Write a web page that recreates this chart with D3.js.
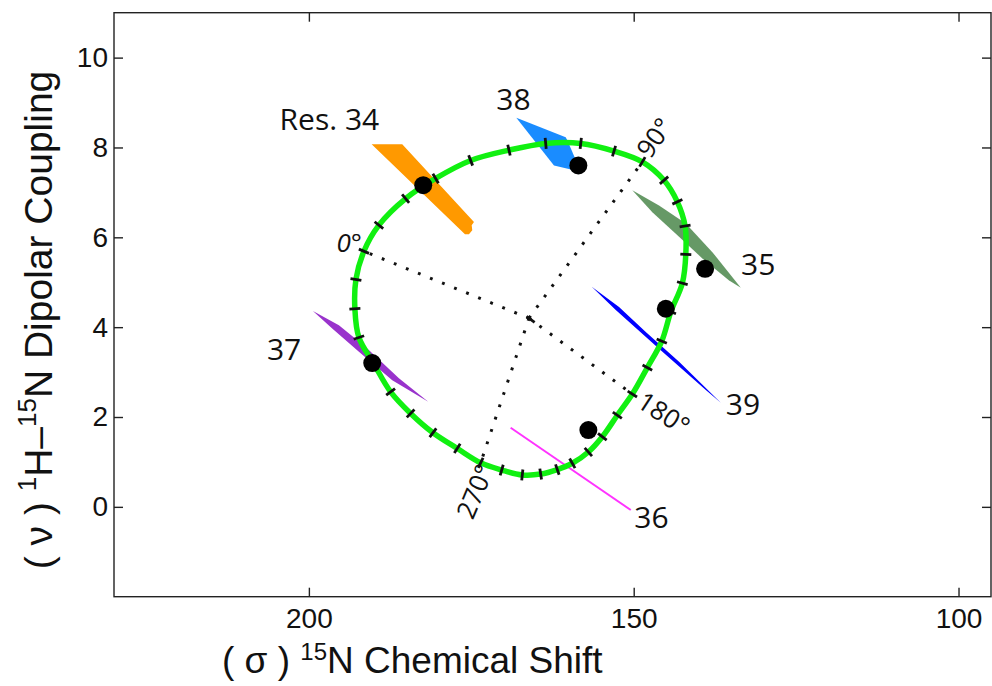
<!DOCTYPE html>
<html>
<head>
<meta charset="utf-8">
<script src="https://cdn.jsdelivr.net/npm/d3@7"></script>
<style>
  body { margin: 0; background: #fff; }
  text { font-family: "Liberation Sans", Arial, sans-serif; }
  .lbl { font-family: "Open Sans", "Noto Sans", sans-serif; }
</style>
</head>
<body>
<script>
// Data (chemical shift in ppm, dipolar coupling in kHz)
var xTicks = [200, 150, 100];
var yTicks = [0, 2, 4, 6, 8, 10];

// wheel points, one every 10 degrees starting at 0 deg
var wheelCS = [191.53, 189.22, 185.11, 180.49, 175.10, 169.20, 163.55, 158.15, 153.03,
  148.67, 145.33, 143.28, 142.09, 141.98, 142.51, 144.29, 145.68, 147.90,
  150.21, 152.52, 154.83, 156.98, 159.45, 161.76, 164.32, 167.15, 170.32,
  173.56, 177.16, 180.90, 184.34, 187.42, 189.99, 192.30, 192.92, 192.76];
var wheelDC = [5.69, 6.27, 6.86, 7.31, 7.71, 7.94, 8.09, 8.09, 7.92,
  7.68, 7.27, 6.79, 6.25, 5.62, 4.98, 4.34, 3.69, 3.10,
  2.51, 2.04, 1.56, 1.22, 0.97, 0.83, 0.73, 0.71, 0.82,
  0.98, 1.30, 1.65, 2.08, 2.56, 3.18, 3.77, 4.41, 5.06];
var wheelCenter = [166.12, 4.20];
var degreeLabels = ["0°", "90°", "180°", "270°"];

var resNames = ["Res. 34", "35", "36", "37", "38", "39"];
var resCS = [182.40, 139.01, 156.98, 190.25, 158.52, 145.06];
var resDC = [7.16, 5.30, 1.71, 3.20, 7.60, 4.41];
var resColors = ["#ff9900", "#669966", "#ff33ff", "#9933cc", "#1a8cff", "#0000ff"];
// uncertainty regions, outline points [cs, dc]
var res34Shape = [[190.34, 8.07], [185.63, 8.07], [174.59, 6.34], [174.94, 6.27], [174.85, 6.16], [175.36, 6.07], [175.97, 6.07]];
var res35Shape = [[150.21, 7.05], [146.10, 6.71], [141.98, 6.31], [137.89, 5.67], [133.51, 4.88], [135.31, 5.04], [139.43, 5.53], [143.02, 6.01], [147.13, 6.56]];
var res36Shape = [[168.94, 1.76], [150.45, -0.07]];
var res37Shape = [[199.38, 4.36], [195.38, 4.04], [191.27, 3.56], [186.14, 2.86], [181.63, 2.34], [187.17, 2.82], [192.30, 3.45], [196.41, 3.97]];
var res38Shape = [[168.07, 8.66], [160.47, 8.23], [160.22, 8.16], [159.03, 7.76], [159.65, 7.51], [162.27, 7.60]];
var res39Shape = [[156.46, 4.90], [152.26, 4.45], [148.14, 3.89], [143.02, 3.23], [136.59, 2.32], [138.90, 2.60], [146.10, 3.52], [152.76, 4.38]];
var resShapes = [res34Shape, res35Shape, res36Shape, res37Shape, res38Shape, res39Shape];

// Chart params
var svgWidth = 992;
var svgHeight = 686;
var margin = { top: 12.7, right: 1, bottom: 89.3, left: 114 };
var width = svgWidth - margin.left - margin.right;
var height = svgHeight - margin.top - margin.bottom;

var svg = d3.select("body").append("svg")
  .attr("width", svgWidth)
  .attr("height", svgHeight);

var chartGroup = svg.append("g")
  .attr("transform", `translate(${margin.left}, ${margin.top})`);

var xScale = d3.scaleLinear().domain([230, 95]).range([0, width]);
var yScale = d3.scaleLinear().domain([-2, 11]).range([height, 0]);

// axes (ticks inside, on all four sides)
var tickLen = 9;
chartGroup.append("g")
  .attr("transform", `translate(0, ${height})`)
  .call(d3.axisBottom(xScale).tickValues(xTicks).tickSizeInner(-tickLen).tickSizeOuter(0).tickPadding(11))
  .call(g => g.select(".domain").remove());
chartGroup.append("g")
  .call(d3.axisTop(xScale).tickValues(xTicks).tickSizeInner(-tickLen).tickSizeOuter(0).tickFormat(""))
  .call(g => g.select(".domain").remove());
chartGroup.append("g")
  .call(d3.axisLeft(yScale).tickValues(yTicks).tickSizeInner(-tickLen).tickSizeOuter(0).tickPadding(6))
  .call(g => g.select(".domain").remove());
chartGroup.append("g")
  .attr("transform", `translate(${width}, 0)`)
  .call(d3.axisRight(yScale).tickValues(yTicks).tickSizeInner(-tickLen).tickSizeOuter(0).tickFormat(""))
  .call(g => g.select(".domain").remove());

chartGroup.selectAll(".tick line").attr("stroke", "#222").attr("stroke-width", 1.4);
chartGroup.selectAll(".tick text")
  .attr("font-family", "Liberation Sans, Arial, sans-serif")
  .attr("font-size", "28px")
  .attr("fill", "#111");

chartGroup.append("rect")
  .attr("width", width)
  .attr("height", height)
  .attr("fill", "none")
  .attr("stroke", "#222")
  .attr("stroke-width", 1.4);

// residue uncertainty regions
resShapes.forEach(function(shape, i) {
  var pts = shape.map(d => [xScale(d[0]), yScale(d[1])]);
  if (pts.length == 2) {
    chartGroup.append("path")
      .attr("d", d3.line()(pts))
      .attr("stroke", resColors[i])
      .attr("stroke-width", 2)
      .attr("fill", "none");
  } else {
    chartGroup.append("path")
      .attr("d", d3.line().curve(d3.curveLinearClosed)(pts))
      .attr("fill", resColors[i]);
  }
});

// wheel
var wheelPts = wheelCS.map((c, i) => [xScale(c), yScale(wheelDC[i])]);
var cx = xScale(wheelCenter[0]);
var cy = yScale(wheelCenter[1]);

// dotted spokes to 0, 90, 180, 270 deg
[0, 9, 18, 27].forEach(function(k) {
  chartGroup.append("line")
    .attr("x1", cx).attr("y1", cy)
    .attr("x2", wheelPts[k][0]).attr("y2", wheelPts[k][1])
    .attr("stroke", "#111")
    .attr("stroke-width", 3)
    .attr("stroke-dasharray", "2.8 10.2");
});
// short dash at the centre
var dir = [wheelPts[18][0] - cx, wheelPts[18][1] - cy];
var dl = Math.hypot(dir[0], dir[1]);
chartGroup.append("line")
  .attr("x1", cx - dir[0] / dl * 3).attr("y1", cy - dir[1] / dl * 3)
  .attr("x2", cx + dir[0] / dl * 7).attr("y2", cy + dir[1] / dl * 7)
  .attr("stroke", "#111").attr("stroke-width", 2.8);

chartGroup.append("path")
  .attr("d", d3.line().curve(d3.curveCatmullRomClosed)(wheelPts))
  .attr("fill", "none")
  .attr("stroke", "#11f011")
  .attr("stroke-width", 5.5);

// perpendicular tick marks on the wheel
var n = wheelPts.length;
wheelPts.forEach(function(p, i) {
  var a = wheelPts[(i - 1 + n) % n], b = wheelPts[(i + 1) % n];
  var tx = b[0] - a[0], ty = b[1] - a[1];
  var len = Math.hypot(tx, ty);
  var nx = -ty / len, ny = tx / len;
  chartGroup.append("line")
    .attr("x1", p[0] - nx * 5.5).attr("y1", p[1] - ny * 5.5)
    .attr("x2", p[0] + nx * 5.5).attr("y2", p[1] + ny * 5.5)
    .attr("stroke", "#111")
    .attr("stroke-width", 2.8);
});

// degree labels
var degOffsets = [
  { dx: -2, dy: 1, rot: 0, anchor: "end", italic: true },
  { dx: 8, dy: -2, rot: -55, anchor: "start", italic: false },
  { dx: 3, dy: 12, rot: 33, anchor: "start", italic: false },
  { dx: -8, dy: 58, rot: -67, anchor: "start", italic: false }
];
[0, 9, 18, 27].forEach(function(k, j) {
  var o = degOffsets[j];
  var x = wheelPts[k][0] + o.dx, y = wheelPts[k][1] + o.dy;
  chartGroup.append("text")
    .attr("class", "lbl")
    .attr("transform", `translate(${x}, ${y}) rotate(${o.rot})`)
    .attr("text-anchor", o.anchor)
    .attr("font-size", "26px")
    .attr("font-style", o.italic ? "italic" : "normal")
    .attr("fill", "#111")
    .text(degreeLabels[j]);
});

// residue dots
chartGroup.selectAll(".res-dot")
  .data(resCS)
  .enter()
  .append("circle")
  .attr("class", "res-dot")
  .attr("cx", d => xScale(d))
  .attr("cy", (d, i) => yScale(resDC[i]))
  .attr("r", 9)
  .attr("fill", "#000");

// residue labels (offset in px from each dot)
var labelOffsets = [[-44, -55, "end"], [36, 6, "start"], [46, 98, "start"], [-71, -3, "end"], [-82, -55, "start"], [60, 106, "start"]];
chartGroup.selectAll(".res-label")
  .data(resNames)
  .enter()
  .append("text")
  .attr("class", "lbl res-label")
  .attr("x", (d, i) => xScale(resCS[i]) + labelOffsets[i][0])
  .attr("y", (d, i) => yScale(resDC[i]) + labelOffsets[i][1])
  .attr("text-anchor", (d, i) => labelOffsets[i][2])
  .attr("font-size", "30px")
  .attr("fill", "#111")
  .text(d => d);

// axis titles
var xTitle = svg.append("text")
  .attr("x", 222)
  .attr("y", 673)
  .attr("font-size", "37px")
  .attr("fill", "#111");
xTitle.append("tspan").text("( σ ) ");
xTitle.append("tspan").attr("font-size", "24px").attr("dy", -13).text("15");
xTitle.append("tspan").attr("dy", 13).text("N Chemical Shift");

var yTitle = svg.append("text")
  .attr("transform", "translate(52, 320) rotate(-90)")
  .attr("text-anchor", "middle")
  .attr("font-size", "39px")
  .attr("fill", "#111");
yTitle.append("tspan").text("( ν ) ");
yTitle.append("tspan").attr("font-size", "26px").attr("dy", -16).text("1");
yTitle.append("tspan").attr("dy", 16).text("H–");
yTitle.append("tspan").attr("font-size", "26px").attr("dy", -16).text("15");
yTitle.append("tspan").attr("dy", 16).text("N Dipolar Coupling");
</script>
</body>
</html>
